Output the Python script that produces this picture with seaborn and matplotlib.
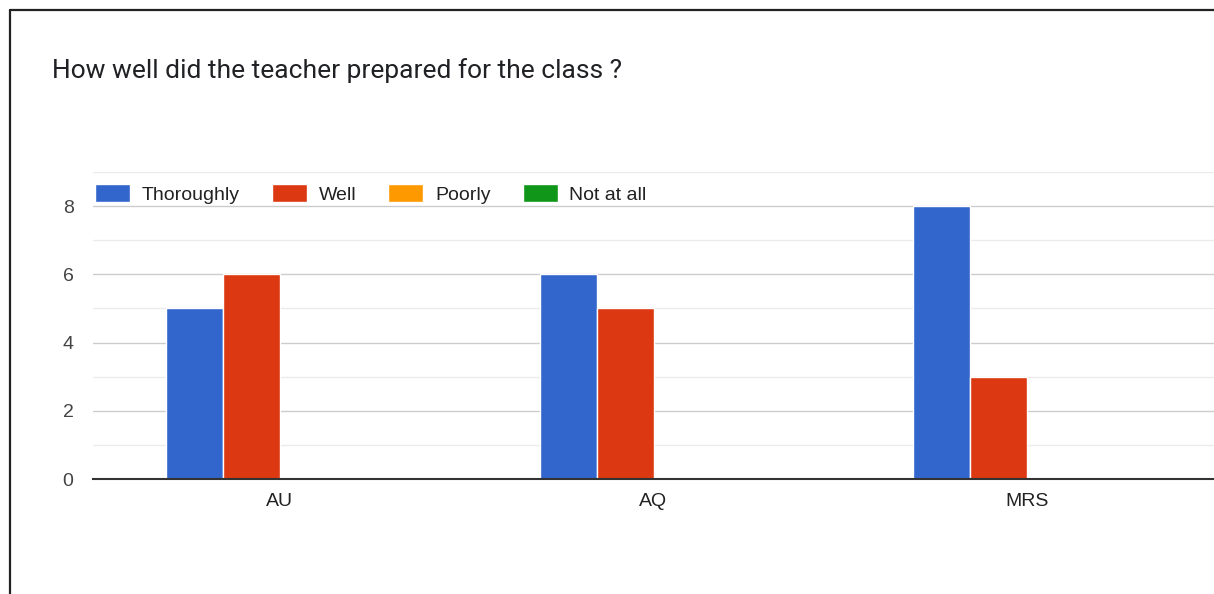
import pandas as pd
import matplotlib.pyplot as plt
import seaborn as sns
from matplotlib.lines import Line2D
from matplotlib.ticker import MultipleLocator

# Data
teachers = ["AU", "AQ", "MRS"]
answers = ["Thoroughly", "Well", "Poorly", "Not at all"]
thoroughly = [5, 6, 8]
well = [6, 5, 3]
poorly = [0, 0, 0]
not_at_all = [0, 0, 0]
colors = ["#3366CC", "#DC3912", "#FF9900", "#109618"]

rows = []
for ans, vals in zip(answers, [thoroughly, well, poorly, not_at_all]):
    for t, v in zip(teachers, vals):
        rows.append({"Teacher": t, "Answer": ans, "Count": v})
df = pd.DataFrame(rows)

sns.set_style("white")
plt.rcParams["font.family"] = ["Liberation Sans", "DejaVu Sans"]

fig = plt.figure(figsize=(12.14, 5.94), dpi=100)
ax = fig.add_axes([93 / 1214, 115 / 594, 1 - 93 / 1214, 307 / 594])

sns.barplot(data=df, x="Teacher", y="Count", hue="Answer", order=teachers,
            hue_order=answers, palette=colors, saturation=1, width=0.61,
            edgecolor="white", linewidth=1, ax=ax)

ax.set_xlim(-0.5, 2.5)
ax.set_ylim(0, 9)
ax.yaxis.set_major_locator(MultipleLocator(2))
ax.yaxis.set_minor_locator(MultipleLocator(1))
ax.grid(axis="y", which="major", color="#cccccc", linewidth=1)
ax.grid(axis="y", which="minor", color="#ebebeb", linewidth=1)
ax.set_axisbelow(True)
for s in ["top", "right", "left"]:
    ax.spines[s].set_visible(False)
ax.spines["bottom"].set_color("#333333")
ax.spines["bottom"].set_linewidth(1.5)
ax.tick_params(axis="y", which="both", length=0, pad=14, labelsize=14, labelcolor="#444444")
ax.tick_params(axis="x", length=0, pad=10, labelsize=14, labelcolor="#222222")
ax.set_xlabel("")
ax.set_ylabel("")

ax.legend(loc="center left", bbox_to_anchor=(0.002, 0.928), ncol=4, frameon=False,
          fontsize=14, handlelength=1.8, handleheight=1.0, handletextpad=0.6,
          columnspacing=1.65, borderpad=0, borderaxespad=0, labelcolor="#222222")

fig.text(52 / 1214, 1 - 71 / 594, "How well did the teacher prepared for the class ?",
         fontsize=19, family=["Roboto", "DejaVu Sans"], color="#202124", va="center")

# screenshot border
fig.add_artist(Line2D([10 / 1214, 10 / 1214], [0, 1 - 10 / 594], transform=fig.transFigure,
                      color="#222222", linewidth=1.6))
fig.add_artist(Line2D([10 / 1214, 1], [1 - 10 / 594, 1 - 10 / 594], transform=fig.transFigure,
                      color="#222222", linewidth=1.6))

fig.savefig("out.png", dpi=100)
